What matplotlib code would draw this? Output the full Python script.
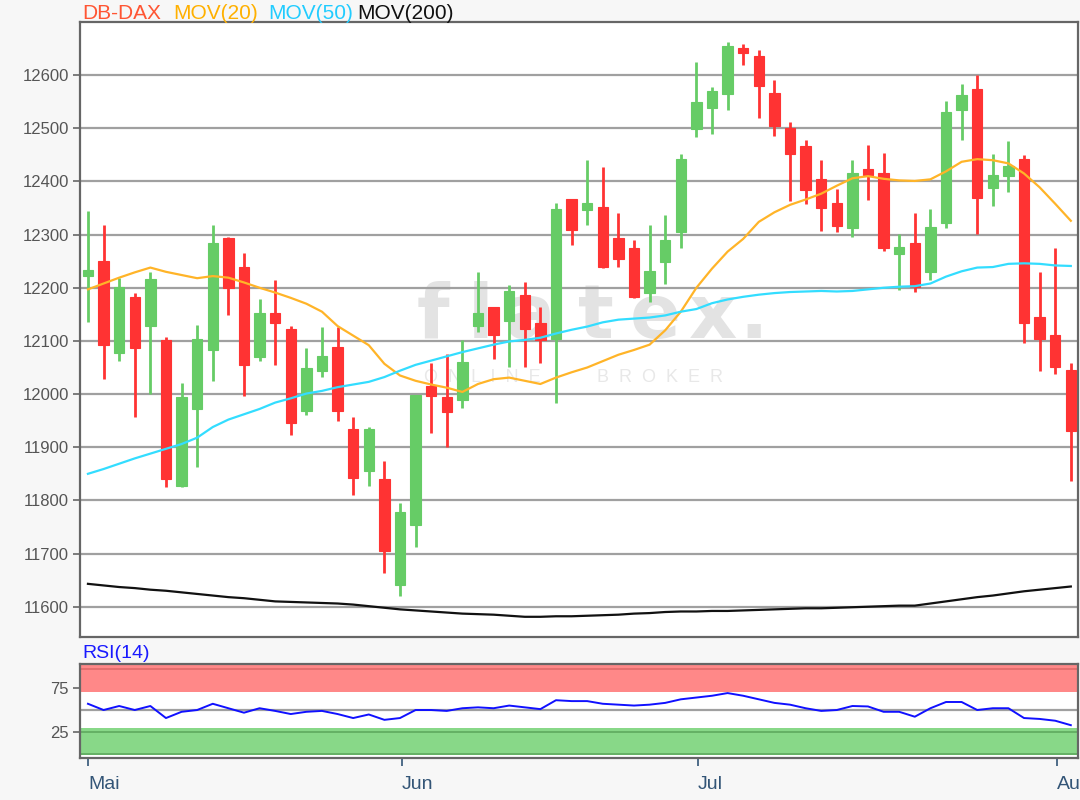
import matplotlib
matplotlib.use("Agg")
import matplotlib.pyplot as plt
import numpy as np

plt.rcParams['font.family'] = ['Liberation Sans', 'DejaVu Sans']

# ---- data ----
opens = [12223, 12251, 12078, 12183, 12128, 12101, 11828, 11972, 12082, 12293,
         12240, 12069, 12152, 12122, 11968, 12044, 12089, 11934, 11856, 11840,
         11641, 11754, 12016, 11994, 11988, 12128, 12164, 12138, 12187, 12134,
         12104, 12367, 12346, 12352, 12293, 12274, 12190, 12248, 12304, 12498,
         12539, 12565, 12651, 12636, 12567, 12500, 12466, 12404, 12360, 12313,
         12423, 12416, 12264, 12285, 12229, 12322, 12535, 12574, 12388, 12410,
         12443, 12145, 12111, 12046]
highs = [12345, 12319, 12218, 12190, 12229, 12107, 12020, 12130, 12319, 12296,
         12265, 12179, 12214, 12128, 12086, 12126, 12126, 11957, 11938, 11875,
         11795, 11999, 12059, 12076, 12101, 12229, 12164, 12205, 12210, 12164,
         12360, 12367, 12440, 12428, 12341, 12289, 12319, 12337, 12451, 12625,
         12578, 12662, 12658, 12647, 12590, 12511, 12478, 12440, 12386, 12440,
         12469, 12454, 12301, 12341, 12349, 12552, 12583, 12601, 12451, 12477,
         12449, 12229, 12274, 12059]
lows = [12136, 12029, 12063, 11957, 12001, 11825, 11825, 11863, 12025, 12149,
        11996, 12063, 12055, 11923, 11960, 12033, 11949, 11811, 11828, 11663,
        11621, 11712, 11927, 11901, 11973, 12116, 12066, 12051, 12051, 12059,
        11984, 12281, 12319, 12238, 12240, 12181, 12173, 12207, 12275, 12483,
        12490, 12535, 12619, 12520, 12485, 12363, 12357, 12307, 12304, 12296,
        12365, 12270, 12196, 12192, 12214, 12313, 12478, 12301, 12354, 12381,
        12096, 12044, 12037, 11837]
closes = [12234, 12093, 12201, 12086, 12216, 11840, 11994, 12104, 12284, 12199,
          12055, 12152, 12134, 11946, 12050, 12072, 11968, 11843, 11934, 11704,
          11779, 11999, 11996, 11966, 12061, 12152, 12112, 12194, 12123, 12102,
          12349, 12309, 12360, 12240, 12255, 12183, 12231, 12289, 12443, 12549,
          12571, 12654, 12641, 12580, 12505, 12451, 12384, 12350, 12316, 12416,
          12412, 12274, 12276, 12201, 12315, 12530, 12563, 12369, 12412, 12430,
          12134, 12104, 12051, 11931]
mov20 = [12197, 12208, 12219, 12229, 12238, 12230, 12224, 12218, 12222, 12219,
         12210, 12200, 12191, 12181, 12170, 12155, 12128, 12110, 12092, 12057,
         12035, 12025, 12018, 12012, 12004, 12019, 12028, 12031, 12025, 12019,
         12031, 12041, 12050, 12062, 12074, 12083, 12093, 12120, 12155, 12200,
         12236, 12268, 12292, 12324, 12342, 12356, 12366, 12377, 12392, 12406,
         12410, 12405, 12402, 12401, 12404, 12419, 12437, 12442, 12440, 12434,
         12415, 12389, 12358, 12326]
mov50 = [11850, 11859, 11869, 11879, 11888, 11897, 11906, 11918, 11938, 11952,
         11962, 11972, 11984, 11992, 12001, 12006, 12013, 12018, 12023, 12032,
         12044, 12055, 12063, 12071, 12079, 12086, 12093, 12099, 12102, 12106,
         12114, 12121, 12127, 12135, 12140, 12142, 12144, 12148, 12155, 12160,
         12171, 12178, 12183, 12187, 12190, 12192, 12193, 12194, 12193, 12194,
         12197, 12200, 12202, 12203, 12208, 12221, 12231, 12238, 12239, 12245,
         12246, 12245, 12242, 12241]
mov200 = [11643, 11640, 11637, 11635, 11632, 11630, 11627, 11624, 11621, 11618,
          11616, 11613, 11610, 11609, 11608, 11607, 11606, 11604, 11601, 11598,
          11595, 11593, 11591, 11589, 11587, 11586, 11585, 11583, 11581, 11581,
          11582, 11582, 11583, 11584, 11585, 11587, 11588, 11590, 11591, 11591,
          11592, 11592, 11593, 11594, 11595, 11596, 11597, 11597, 11598, 11599,
          11600, 11601, 11602, 11602, 11606, 11610, 11614, 11618, 11621, 11625,
          11629, 11632, 11635, 11638]
rsi = [57, 50, 54.5, 50, 54.5, 41, 48, 50, 57, 52,
       47, 52, 49, 45.5, 48, 49, 45.5, 41, 45, 39,
       41, 50, 50, 49, 52, 53, 52, 55, 53, 51,
       61, 60, 60, 57, 56, 55, 56, 58, 62, 64,
       66, 69, 66, 62, 58, 56, 52, 49, 50, 54.5,
       54, 48, 48, 42.5, 52, 59, 59, 50, 52, 52,
       41, 40, 38, 33]
month_labels = ["Mai", "Jun", "Jul", "Aug"]
month_pos = [0.0, 20.1, 39.1, 62.1]
price_ticks = [11600, 11700, 11800, 11900, 12000, 12100, 12200, 12300, 12400, 12500, 12600]
rsi_ticks = [25, 75]

# ---- figure ----
fig = plt.figure(figsize=(10.8, 8.0), dpi=100, facecolor='#f7f7f7')
W, H = 1080.0, 800.0
ax = fig.add_axes([80 / W, 1 - 637 / H, (1078 - 80) / W, (637 - 22) / H])
ax2 = fig.add_axes([80 / W, 1 - 758 / H, (1078 - 80) / W, (758 - 664) / H])

x = np.arange(len(opens))
o = np.array(opens); c = np.array(closes); h = np.array(highs); l = np.array(lows)
up = c >= o
GREEN = '#66cc66'
RED = '#ff3333'
cols = np.where(up, GREEN, RED)

for s in ax.spines.values():
    s.set_color('#666666'); s.set_linewidth(1.6)
ax.set_xlim(-0.51, 63.46)
ax.set_ylim(11543, 12700)
ax.set_yticks(price_ticks)
ax.set_yticklabels([str(v) for v in price_ticks])
ax.tick_params(axis='y', colors='#666666', labelcolor='#555555', labelsize=12,
               length=5, width=1.2, direction='out', pad=3)
ax.set_xticks([])
ax.grid(axis='y', color='#a0a0a0', linewidth=1.6, zorder=0)
ax.set_axisbelow(True)

# watermark (axes-fraction positions)
def axfx(px):
    return (px - 80) / 998.0

def axfy(py):
    return (637 - py) / 615.0

wm_letters = ['f', 'l', 'a', 't', 'e', 'x', '.']
wm_px = [433, 481, 530, 596, 655, 713, 754]
for ch, px in zip(wm_letters, wm_px):
    ax.text(axfx(px), axfy(338), ch, transform=ax.transAxes, ha='center',
            va='baseline', fontsize=54, fontweight='bold', color='#e3e3e3',
            zorder=0.5, family=['DejaVu Sans'])
ax.text(axfx(424), axfy(378), 'O  N  L  I  N  E', transform=ax.transAxes,
        ha='left', va='center', fontsize=13, color='#e8e8e8', zorder=0.5)
ax.text(axfx(597), axfy(378), 'B  R  O  K  E  R', transform=ax.transAxes,
        ha='left', va='center', fontsize=13, color='#e8e8e8', zorder=0.5)

ax.vlines(x, l, h, colors=cols, linewidth=2.0, zorder=2)
ax.bar(x, np.maximum(np.abs(c - o), 2), bottom=np.minimum(o, c), width=0.66,
       color=cols, edgecolor=cols, linewidth=0.8, zorder=3)

ax.plot(x, mov20, color='#ffb428', linewidth=1.6, zorder=4)
ax.plot(x, mov50, color='#33ddff', linewidth=1.6, zorder=4)
ax.plot(x, mov200, color='#111111', linewidth=1.6, zorder=4)

# title pieces
ty = 1 - 13.5 / H
fig.text(82.5 / W, ty, 'DB-DAX', color='#ff5533', fontsize=15, va='center', ha='left')
fig.text(173 / W, ty, 'MOV(20)', color='#ffb000', fontsize=15, va='center', ha='left')
fig.text(268 / W, ty, 'MOV(50)', color='#22ccff', fontsize=15, va='center', ha='left')
fig.text(357 / W, ty, 'MOV(200)', color='#111111', fontsize=15, va='center', ha='left')

# ---- RSI panel ----
for s in ax2.spines.values():
    s.set_color('#666666'); s.set_linewidth(1.6)
ax2.set_xlim(-0.51, 63.46)
ax2.set_ylim(-3.8, 101.6)
ax2.axhspan(70, 100, color='#ff8888', zorder=1, linewidth=0)
ax2.axhspan(0, 30, color='#88d888', zorder=1, linewidth=0)
ax2.axhline(96, color='#e06a6a', linewidth=1.2, zorder=1.5)
ax2.axhline(25, color='#5faa5f', linewidth=1.2, zorder=1.5)
ax2.axhline(0.5, color='#5faa5f', linewidth=1.2, zorder=1.5)
ax2.axhline(50, color='#a0a0a0', linewidth=1.6, zorder=1.5)
ax2.plot(x, rsi, color='#1010ff', linewidth=1.4, zorder=3)
ax2.set_yticks(rsi_ticks)
ax2.set_yticklabels([str(v) for v in rsi_ticks])
ax2.tick_params(axis='y', colors='#666666', labelcolor='#555555', labelsize=12,
                length=5, width=1.2, direction='out', pad=3)
ax2.set_xticks(month_pos)
ax2.set_xticklabels(month_labels)
ax2.tick_params(axis='x', colors='#335577', labelcolor='#335577', labelsize=14,
                length=6, width=1.2, direction='out', pad=7)
for lab in ax2.get_xticklabels():
    lab.set_horizontalalignment('left')
fig.text(82 / W, 1 - 654 / H, 'RSI(14)', color='#1a1aff', fontsize=14, va='center', ha='left')

fig.savefig('out.png', dpi=100, facecolor=fig.get_facecolor())
